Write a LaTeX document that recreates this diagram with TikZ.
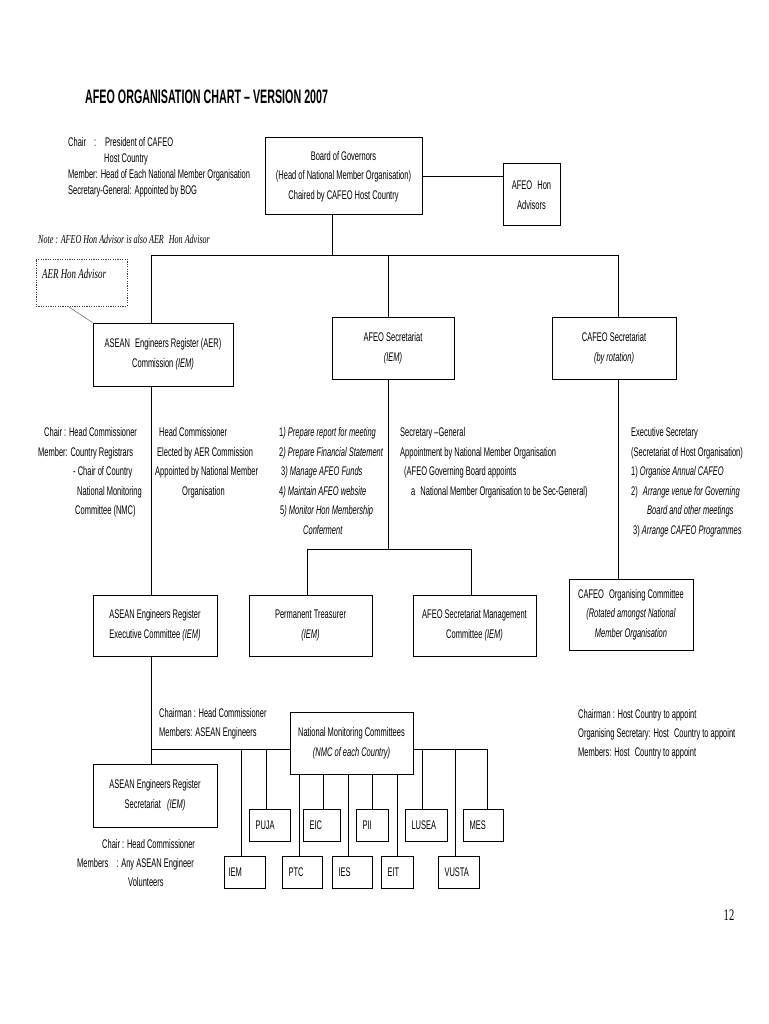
\documentclass[tikz,border=0pt]{standalone}
\usepackage{fontspec}
\setmainfont{Liberation Sans}[FakeStretch=0.6]
\newfontfamily\titlefont{Liberation Sans}[FakeStretch=0.55]
\newfontfamily\serifit{Liberation Serif}[FakeStretch=0.66]
\begin{document}
\begin{tikzpicture}[x=1pt,y=-1pt,
  box/.style={draw, line width=1pt, align=center, inner sep=1pt, font=\fontsize{12.5}{19.6}\selectfont},
  sbox/.style={draw, line width=1pt, align=left, inner xsep=6pt, inner ysep=0pt, minimum height=32pt, anchor=west, font=\fontsize{12.5}{14}\selectfont, text width=#1},
  txt/.style={inner sep=0pt, anchor=north west, align=left, font=\fontsize{12.5}{19.6}\selectfont},
  link/.style={line width=0.9pt}]
\useasboundingbox[fill=white] (0,0) rectangle (768,1024);

% title and top notes
\node[inner sep=0pt, anchor=west, font=\titlefont\bfseries\fontsize{19.5}{21}\selectfont] (title) at (85,97) {AFEO ORGANISATION CHART – VERSION 2007};
\node[txt, font=\fontsize{12.5}{16}\selectfont] (topnote) at (68,137.3) {Chair\hspace{8pt}:\hspace{9pt}President of CAFEO\\ \hspace{36pt}Host Country\\ Member:\hspace{3pt}Head of Each National Member Organisation\\ Secretary-General:\hspace{3pt}Appointed by BOG};
\node[inner sep=0pt, anchor=west, font=\serifit\itshape\fontsize{12.2}{13}\selectfont] (note) at (38,239) {Note : AFEO Hon Advisor is also AER\hspace{3pt} Hon Advisor};

% top boxes
\node[box, minimum width=157pt, minimum height=77pt] (bog) at (343.5,176.5) {Board of Governors\\ (Head of National Member Organisation)\\ Chaired by CAFEO Host Country};
\node[box, minimum width=57pt, minimum height=62pt] (hon) at (531.5,195) {AFEO\hspace{3pt} Hon\\ Advisors};

% AER Hon Advisor (dotted)
\node[draw=black!75, line width=0.8pt, dash pattern=on 1.2pt off 1.2pt, minimum width=91pt, minimum height=47pt, inner sep=0pt] (aerhon) at (81.5,282.5) {};
\node[inner sep=0pt, anchor=west, font=\serifit\itshape\fontsize{13.5}{14}\selectfont] (aerhontxt) at (42,274) {AER Hon Advisor};

% second row boxes
\node[box, minimum width=140pt, minimum height=63pt] (aerc) at (163,354.5) {ASEAN\hspace{3pt} Engineers Register (AER)\\ Commission \textit{(IEM)}};
\node[box, minimum width=122pt, minimum height=62pt] (afeosec) at (393,348) {AFEO Secretariat\\ \textit{(IEM)}};
\node[box, minimum width=124pt, minimum height=62pt] (cafeosec) at (614,348) {CAFEO Secretariat\\ \textit{(by rotation)}};

% text columns
\node[txt] (colA) at (38,427.3) {\hspace{6pt}Chair : Head Commissioner\\ Member: Country Registrars\\ \hspace{35pt}- Chair of Country\\ \hspace{39pt}National Monitoring\\ \hspace{37pt}Committee (NMC)};
\node[txt] (colB) at (155,427.3) {\hspace{4pt}Head Commissioner\\ \hspace{2pt}Elected by AER Commission\\ Appointed by National Member\\ \hspace{27pt}Organisation};
\node[txt] (colC) at (279,427.3) {1\textit{) Prepare report for meeting}\\ 2\textit{) Prepare Financial Statement}\\ \hspace{2pt}3\textit{) Manage AFEO Funds}\\ 4\textit{) Maintain AFEO website}\\ \hspace{1pt}5\textit{) Monitor Hon Membership}\\ \hspace{24pt}\textit{Conferment}};
\node[txt] (colD) at (400,427.3) {Secretary –General\\ Appointment by National Member Organisation\\ \hspace{4pt}(AFEO Governing Board appoints\\ \hspace{11pt}a\hspace{3pt} National Member Organisation to be Sec-General)};
\node[txt] (colE) at (631,427.3) {Executive Secretary\\ (Secretariat of Host Organisation)\\ 1) \textit{Organise Annual CAFEO}\\ 2)\hspace{3pt} \textit{Arrange venue for Governing}\\ \hspace{16pt}\textit{Board and other meetings}\\ \hspace{2pt}3) \textit{Arrange CAFEO Programmes}};

% third row boxes
\node[box, minimum width=124pt, minimum height=61pt] (aerexec) at (155,625.5) {ASEAN Engineers Register\\ Executive Committee \textit{(IEM)}};
\node[box, minimum width=123pt, minimum height=61pt] (ptreas) at (310.5,625.5) {Permanent Treasurer\\ \textit{(IEM)}};
\node[box, minimum width=123pt, minimum height=61pt] (mgmt) at (474.5,625.5) {AFEO Secretariat Management\\ Committee \textit{(IEM)}};
\node[box, minimum width=124pt, minimum height=71pt] (cafeoorg) at (631,614.5) {CAFEO\hspace{3pt} Organising Committee\\ \textit{(Rotated amongst National}\\ \textit{Member Organisation}};

% lower texts
\node[txt, font=\fontsize{12.5}{19}\selectfont] (cafeonote) at (578,709.3) {Chairman : Host Country to appoint\\ Organising Secretary: Host\hspace{3pt} Country to appoint\\ Members: Host\hspace{3pt} Country to appoint};
\node[txt, font=\fontsize{12.5}{19}\selectfont] (execnote) at (159,708.3) {Chairman : Head Commissioner\\ Members: ASEAN Engineers};

% bottom boxes
\node[box, minimum width=123pt, minimum height=62pt] (nmc) at (351.5,743) {National Monitoring Committees\\ \textit{(NMC of each Country)}};
\node[box, minimum width=124pt, minimum height=63pt] (aersec) at (155,795.5) {ASEAN Engineers Register\\ Secretariat\hspace{4pt} \textit{(IEM)}};
\node[txt, font=\fontsize{12.5}{19}\selectfont] (secnote) at (77,839.3) {\hspace{25pt}Chair : Head Commissioner\\ Members\hspace{8pt}: Any ASEAN Engineer\\ \hspace{51pt}Volunteers};

% member boxes
\node[sbox=29pt] (puja) at (249,825) {PUJA};
\node[sbox=25pt] (eic) at (303,825) {EIC};
\node[sbox=20pt] (pii) at (356,825) {PII};
\node[sbox=30pt] (lusea) at (405,825) {LUSEA};
\node[sbox=28pt] (mes) at (463,825) {MES};
\node[sbox=29pt, inner xsep=4pt, text width=33pt] (iem) at (224,872) {IEM};
\node[sbox=28pt] (ptc) at (282,872) {PTC};
\node[sbox=28pt] (ies) at (332,872) {IES};
\node[sbox=20pt] (eit) at (381,872) {EIT};
\node[sbox=29pt] (vusta) at (438,872) {VUSTA};

% page number
\node[inner sep=0pt, font=\serifit\fontsize{16}{17}\selectfont] (pageno) at (729,915) {12};

% ---------- connectors ----------
\coordinate (jb) at (332,255);
\coordinate (jl) at (151,255);
\coordinate (jm) at (388,255);
\coordinate (jr) at (618,255);
\draw[link] (bog.east) -- (bog.east -| hon.west);
\draw[link] (bog.south -| jb) -- (jb);
\draw[link] (jl) -- (jr);
\draw[link] (jl) -- (jl |- aerc.north);
\draw[link] (jm) -- (jm |- afeosec.north);
\draw[link] (jr) -- (jr |- cafeosec.north);

% AER spine
\draw[link] (jl |- aerc.south) -- (jl |- aerexec.north);
\draw[link] (jl |- aerexec.south) -- (jl |- aersec.north);

% AFEO secretariat branch
\coordinate (ja) at (388,549);
\coordinate (jt) at (307,549);
\coordinate (jg) at (471,549);
\draw[link] (jm |- afeosec.south) -- (ja);
\draw[link] (jt) -- (jg);
\draw[link] (jt) -- (jt |- ptreas.north);
\draw[link] (jg) -- (jg |- mgmt.north);

% CAFEO branch
\draw[link] (jr |- cafeosec.south) -- (jr |- cafeoorg.north);

% AER Hon advisor link
\coordinate (hx) at (68,306);
\draw[black!55, line width=0.6pt] (aerhon.south -| hx) -- (aerc.north west);

% NMC bus
\coordinate (na) at (151,749);
\coordinate (nb) at (487,749);
\draw[link] (na) -- (na -| nmc.west);
\draw[link] (nmc.east |- nb) -- (nb);
\foreach \n/\x in {iem/241, puja/266, lusea/422, vusta/455, mes/487}{
  \coordinate (t\n) at (\x,749);
  \draw[link] (t\n) -- (t\n |- \n.north);
}
\foreach \n/\x in {ptc/299, eic/323, ies/348, pii/372, eit/397}{
  \coordinate (s\n) at (\x,774);
  \draw[link] (s\n |- nmc.south) -- (s\n |- \n.north);
}
\end{tikzpicture}
\end{document}
